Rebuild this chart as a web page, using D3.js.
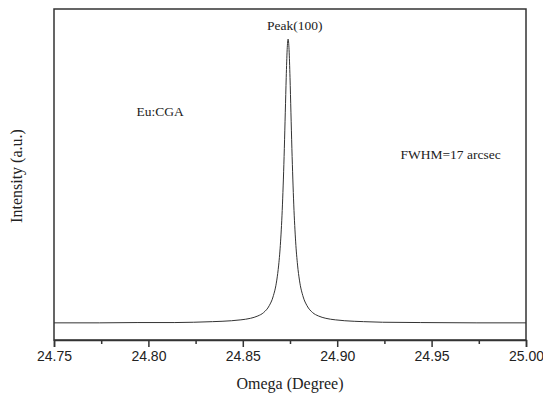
<!DOCTYPE html>
<html>
<head>
<meta charset="utf-8">
<script src="https://cdn.jsdelivr.net/npm/d3@7"></script>
<style>
  body { margin: 0; background: white; }
  svg { display: block; }
</style>
</head>
<body>
<div id="container"></div>
<script>
// rocking curve data (omega in degree, intensity in arbitrary units)
const omega = [24.750, 24.774, 24.794, 24.814, 24.824, 24.834, 24.844, 24.849, 24.854, 24.858,
               24.861, 24.864, 24.866, 24.868, 24.869, 24.870, 24.871, 24.872, 24.8725, 24.873,
               24.8735, 24.874, 24.8745, 24.875, 24.8755, 24.876, 24.877, 24.878, 24.879, 24.880,
               24.882, 24.884, 24.887, 24.890, 24.894, 24.899, 24.904, 24.914, 24.924, 24.944,
               24.974, 25.000];
const intensity = [57, 57, 58, 58, 59, 61, 64, 67, 72, 80,
                   91, 114, 143, 199, 249, 326, 449, 637, 755, 873,
                   965, 1000, 965, 873, 755, 637, 449, 326, 249, 199,
                   143, 114, 91, 80, 72, 67, 64, 61, 59, 58,
                   57, 57];

const xTicks = [24.75, 24.80, 24.85, 24.90, 24.95, 25.00];
const xMinorTicks = [24.775, 24.825, 24.875, 24.925, 24.975];

// annotation texts
const annotations = [
  { text: "Peak(100)", x: 24.8775, y: 1030, anchor: "middle" },
  { text: "Eu:CGA", x: 24.7937, y: 745, anchor: "start" },
  { text: "FWHM=17 arcsec", x: 24.9335, y: 600, anchor: "start" }
];

const W = 543, H = 394,
      margin = { top: 9, right: 17, bottom: 54, left: 54 },
      width = W - margin.left - margin.right,
      height = H - margin.top - margin.bottom;

const svg = d3.select("#container")
  .append("svg")
  .attr("width", W)
  .attr("height", H);

const g = svg.append("g")
  .attr("transform", `translate(${margin.left}, ${margin.top})`);

const x = d3.scaleLinear().domain([24.75, 25.00]).range([0, width]);
const y = d3.scaleLinear().domain([0, 1100]).range([height, 0]);

// frame around the plot
g.append("rect")
  .attr("x", 0)
  .attr("y", 0)
  .attr("width", width)
  .attr("height", height)
  .attr("fill", "none")
  .attr("stroke", "#333")
  .attr("stroke-width", 1.5);

// the curve itself
const data = omega.map((o, i) => ({ o: o, v: intensity[i] }));
const line = d3.line()
  .x(d => x(d.o))
  .y(d => y(d.v))
  .curve(d3.curveMonotoneX);

g.append("path")
  .datum(data)
  .attr("d", line)
  .attr("fill", "none")
  .attr("stroke", "#333")
  .attr("stroke-width", 1);

// bottom axis, major ticks with labels + minor ticks without
const xAxis = g.append("g")
  .attr("transform", `translate(0, ${height})`)
  .call(d3.axisBottom(x).tickValues(xTicks).tickFormat(d3.format(".2f")).tickSize(7).tickPadding(4));

xAxis.select(".domain").attr("stroke", "#333").attr("stroke-width", 1.5);
xAxis.selectAll(".tick line").attr("stroke", "#333").attr("stroke-width", 1.5);
xAxis.selectAll("text")
  .attr("font-family", "Liberation Sans, Arial, sans-serif")
  .attr("font-size", "14px")
  .attr("fill", "#222");

g.append("g")
  .attr("transform", `translate(0, ${height})`)
  .call(d3.axisBottom(x).tickValues(xMinorTicks).tickFormat("").tickSize(4))
  .call(a => a.select(".domain").remove())
  .selectAll(".tick line").attr("stroke", "#333").attr("stroke-width", 1.5);

// annotations inside the plot
g.selectAll(".note")
  .data(annotations)
  .join("text")
  .attr("class", "note")
  .attr("x", d => x(d.x))
  .attr("y", d => y(d.y))
  .attr("text-anchor", d => d.anchor)
  .attr("font-family", "Liberation Serif, Times New Roman, serif")
  .attr("font-size", "13.5px")
  .attr("fill", "#222")
  .text(d => d.text);

// axis titles
svg.append("text")
  .attr("x", margin.left + width / 2)
  .attr("y", 389)
  .attr("text-anchor", "middle")
  .attr("font-family", "Liberation Serif, Times New Roman, serif")
  .attr("font-size", "16px")
  .attr("fill", "#222")
  .text("Omega (Degree)");

svg.append("text")
  .attr("transform", "rotate(-90)")
  .attr("x", -176)
  .attr("y", 22)
  .attr("text-anchor", "middle")
  .attr("font-family", "Liberation Serif, Times New Roman, serif")
  .attr("font-size", "16px")
  .attr("fill", "#222")
  .text("Intensity (a.u.)");
</script>
</body>
</html>
